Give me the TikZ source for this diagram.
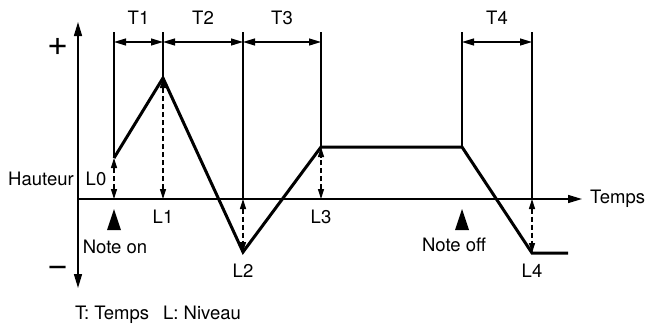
\documentclass[tikz,border=0pt]{standalone}
\usepackage{fontspec}
\setmainfont{TeX Gyre Heros}
\usetikzlibrary{arrows.meta}

\begin{document}
\begin{tikzpicture}[x=1pt, y=-1pt, >={Triangle[length=12pt,width=7pt]}, every node/.style={font=\fontsize{18.5}{21}\selectfont, inner sep=1pt}]
\tikzstyle{axis}=[line width=1.5pt, -{Triangle[length=14pt,width=8pt]}]
\tikzstyle{guide}=[line width=1.2pt]
\tikzstyle{span}=[line width=1.2pt, <->]
\tikzstyle{level}=[line width=1.2pt, dash pattern=on 5pt off 3pt, {Triangle[length=10pt,width=6pt]}-{Triangle[length=10pt,width=6pt]}]
\tikzstyle{env}=[line width=3pt, line join=miter]
\tikzstyle{sign}=[font=\fontsize{36}{38}\selectfont]
\useasboundingbox (0,0) rectangle (645,327);
% axes
\coordinate (o) at (78,199);
\coordinate (ytop) at (78,22);
\coordinate (ybot) at (78,288);
\coordinate (xend) at (582,199);
\draw[axis] (o) -- (ytop);
\draw[axis] (o) -- (ybot);
\draw[axis] (o) -- (xend);
% envelope points
\coordinate (p0) at (114,158);
\coordinate (p1) at (163,78);
\coordinate (p2) at (243,252);
\coordinate (p3) at (321,147);
\coordinate (p4) at (462,147);
\coordinate (p5) at (532,253);
\coordinate (p6) at (568,253);
\foreach \n/\x in {0/114,1/163,2/243,3/321,4/462,5/532} {
  \coordinate (t\n) at (\x,32);
  \coordinate (a\n) at (\x,42);
  \coordinate (b\n) at (\x,199);
}
% guides
\draw[guide] (t0) -- (p0);
\draw[guide] (t1) -- (p1);
\draw[guide] (t2) -- (b2);
\draw[guide] (t3) -- (p3);
\draw[guide] (t4) -- (p4);
\draw[guide] (t5) -- (b5);
% times
\draw[span] (a0) -- node[above=16pt] (T1) {T1} (a1);
\draw[span] (a1) -- node[above=16pt] (T2) {T2} (a2);
\draw[span] (a2) -- node[above=16pt] (T3) {T3} (a3);
\draw[span] (a4) -- node[above=16pt] (T4) {T4} (a5);
% levels
\draw[level] (b0) -- (p0);
\draw[level] (b1) -- (p1);
\draw[level] (b2) -- (p2);
\draw[level] (b3) -- (p3);
\draw[level] (b5) -- (p5);
\draw[env] (p0) -- (p1) -- (p2) -- (p3) -- (p4) -- (p5) -- (p6);
% labels
\node[sign] (plus) at (58,47) {+};
\node[sign] (minus) at (58,271) {\char"2212};
\node (hauteur) at (41,179) {Hauteur};
\node (L0) at (96,179) {L0};
\node (L1) at (163,217) {L1};
\node (L2) at (243,271) {L2};
\node (L3) at (321,217) {L3};
\node (L4) at (532,271) {L4};
\node[anchor=west] (temps) at (589,199) {Temps};
% note on / off
\coordinate (on) at (114,209);
\coordinate (off) at (462,209);
\fill (on) -- ++(7,21) -- ++(-14,0) -- cycle;
\fill (off) -- ++(7,21) -- ++(-14,0) -- cycle;
\node (noteon) at (115,247) {Note on};
\node (noteoff) at (454,245) {Note off};
\node[anchor=west] (legend) at (74,315) {T: Temps\hspace{14pt}L: Niveau};
\end{tikzpicture}
\end{document}
